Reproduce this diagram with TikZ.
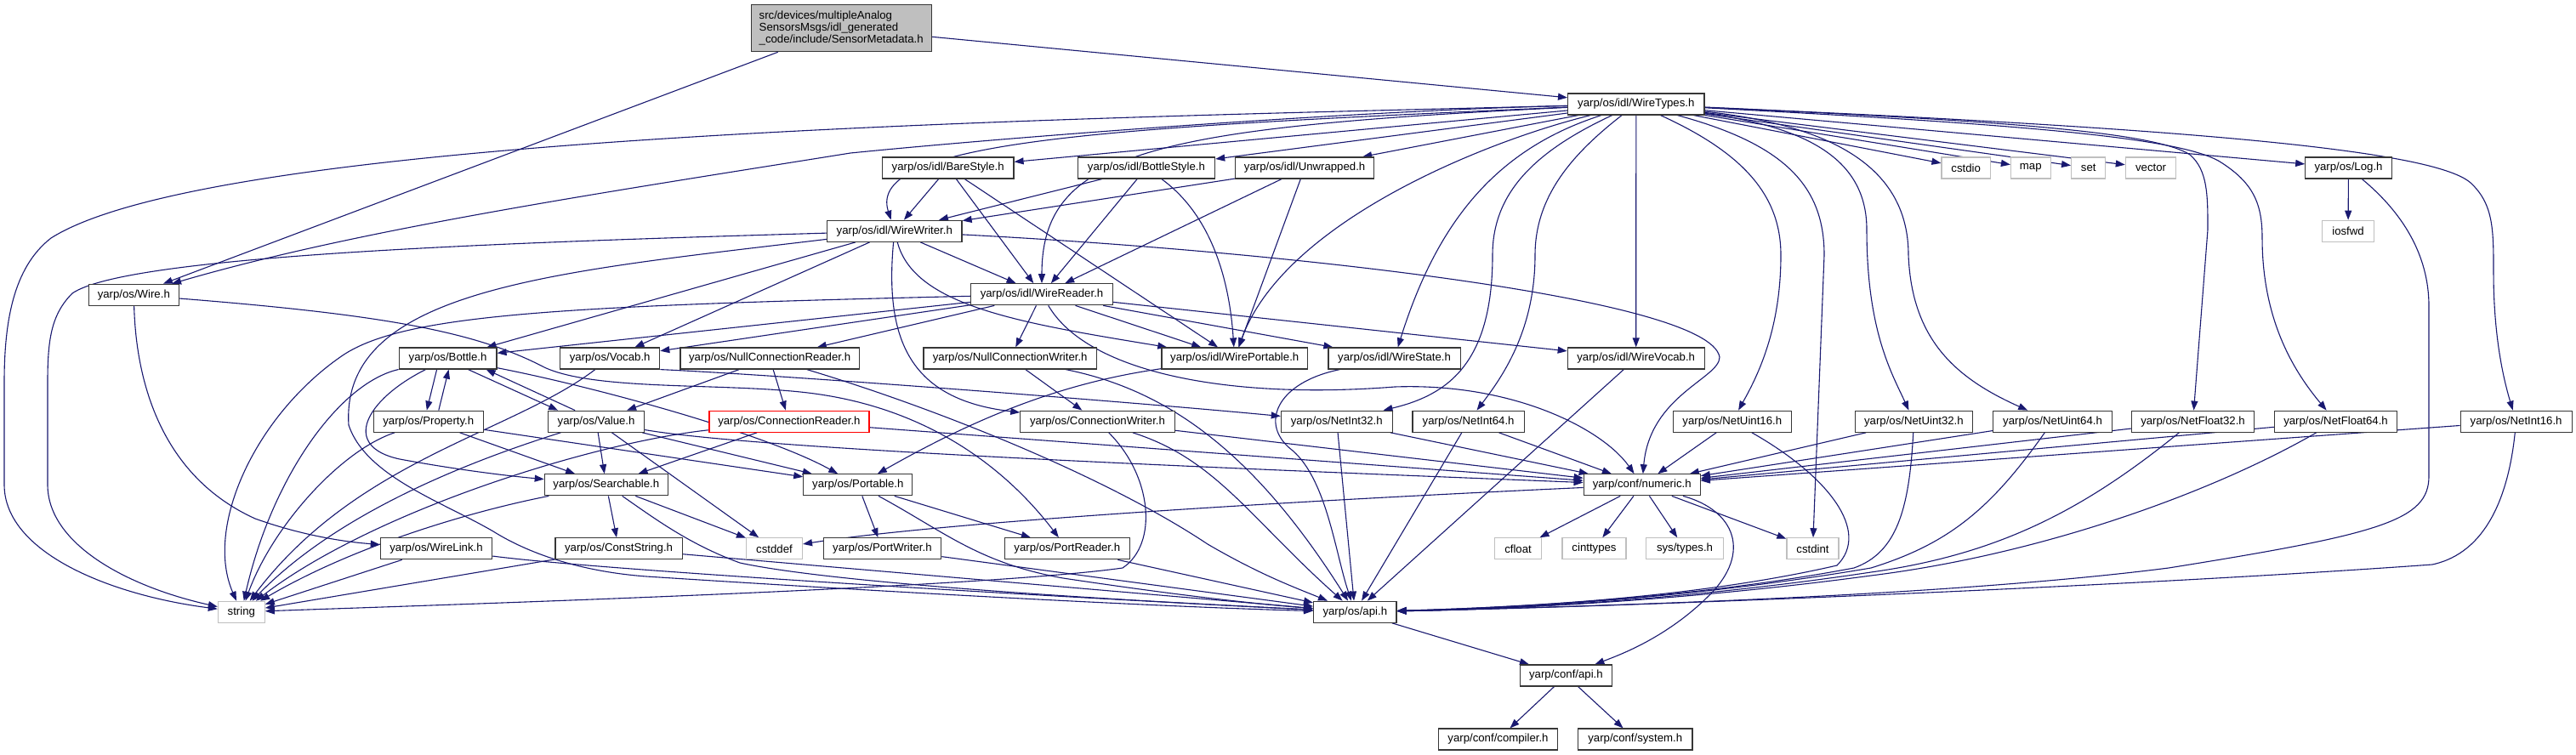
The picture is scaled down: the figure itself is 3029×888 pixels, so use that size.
\documentclass[tikz,border=0pt]{standalone}
\usepackage{fontspec}
\setmainfont{Liberation Sans}
\usetikzlibrary{arrows.meta}
\definecolor{edgec}{RGB}{25,25,112}
\definecolor{boxb}{RGB}{55,55,55}
\definecolor{sysb}{RGB}{191,191,191}
\definecolor{sensf}{RGB}{191,191,191}
\pgfdeclarelayer{bg}
\pgfsetlayers{bg,main}
\begin{document}
\begin{tikzpicture}[x=1pt,y=-1pt,
  font=\fontsize{13.2}{14.2}\selectfont,
  nbox/.style={draw=boxb, line width=1.2pt, fill=white, inner sep=0pt, minimum height=25pt},
  sbox/.style={nbox, draw=sysb},
  rbox/.style={nbox, draw=red},
  dep/.style={draw=edgec, line width=1.1pt, -{Triangle[length=11pt,width=8pt]}}]
\useasboundingbox (0,0) rectangle (3029,888);
% nodes
\node[nbox, fill=sensf, minimum width=211.8pt, minimum height=55pt, align=left] (sensor) at (989.2,33.2) {src/devices/multipleAnalog\\SensorsMsgs/idl\_generated\\\_code/include/SensorMetadata.h};
\node[nbox, minimum width=160.4pt] (wt) at (1923.8,122.5) {yarp/os/idl/WireTypes.h};
\node[nbox, minimum width=154.6pt] (bare) at (1114.7,197.5) {yarp/os/idl/BareStyle.h};
\node[nbox, minimum width=161.4pt] (bstyle) at (1347.9,197.5) {yarp/os/idl/BottleStyle.h};
\node[nbox, minimum width=162.6pt] (unw) at (1534.1,197.5) {yarp/os/idl/Unwrapped.h};
\node[sbox, minimum width=57.4pt] (cstdio) at (2311.7,197.5) {cstdio};
\node[sbox, minimum width=46.6pt] (nmap) at (2387.8,197.5) {map};
\node[sbox, minimum width=40.2pt] (nset) at (2455.7,197.5) {set};
\node[sbox, minimum width=59.3pt] (vector) at (2529,197.5) {vector};
\node[nbox, minimum width=101.5pt] (log) at (2761.5,197.5) {yarp/os/Log.h};
\node[nbox, minimum width=158.5pt] (ww) at (1051.8,271.8) {yarp/os/idl/WireWriter.h};
\node[sbox, minimum width=60.3pt] (iosfwd) at (2761,271.8) {iosfwd};
\node[nbox, minimum width=106.2pt] (wire) at (157.3,346.8) {yarp/os/Wire.h};
\node[nbox, minimum width=166.7pt] (wr) at (1225,346.3) {yarp/os/idl/WireReader.h};
\node[nbox, minimum width=114.8pt] (bottle) at (526.6,421.5) {yarp/os/Bottle.h};
\node[nbox, minimum width=117pt] (vocab) at (717.2,421.5) {yarp/os/Vocab.h};
\node[nbox, minimum width=210.4pt] (ncr) at (905.1,421.5) {yarp/os/NullConnectionReader.h};
\node[nbox, minimum width=203.6pt] (ncw) at (1187.7,421.5) {yarp/os/NullConnectionWriter.h};
\node[nbox, minimum width=171.3pt] (wp) at (1451.7,421.5) {yarp/os/idl/WirePortable.h};
\node[nbox, minimum width=155.1pt] (ws) at (1639.6,421.5) {yarp/os/idl/WireState.h};
\node[nbox, minimum width=160.9pt] (wv) at (1923.7,421.5) {yarp/os/idl/WireVocab.h};
\node[nbox, minimum width=129.4pt] (prop) at (503.8,495.7) {yarp/os/Property.h};
\node[nbox, minimum width=113pt] (value) at (701.1,495.7) {yarp/os/Value.h};
\node[rbox, minimum width=188pt] (cr) at (927.9,495.7) {yarp/os/ConnectionReader.h};
\node[nbox, minimum width=181.3pt] (cw) at (1290.5,495.7) {yarp/os/ConnectionWriter.h};
\node[nbox, minimum width=130.9pt] (ni32) at (1571.8,495.7) {yarp/os/NetInt32.h};
\node[nbox, minimum width=131.4pt] (ni64) at (1726.6,495.7) {yarp/os/NetInt64.h};
\node[nbox, minimum width=139.1pt] (nu16) at (2036.8,495.7) {yarp/os/NetUint16.h};
\node[nbox, minimum width=137.8pt] (nu32) at (2250.4,495.7) {yarp/os/NetUint32.h};
\node[nbox, minimum width=139.3pt] (nu64) at (2413.5,495.7) {yarp/os/NetUint64.h};
\node[nbox, minimum width=143.7pt] (nf32) at (2578.5,495.7) {yarp/os/NetFloat32.h};
\node[nbox, minimum width=144.2pt] (nf64) at (2746.5,495.7) {yarp/os/NetFloat64.h};
\node[nbox, minimum width=131pt] (ni16) at (2958.6,495.7) {yarp/os/NetInt16.h};
\node[nbox, minimum width=145pt] (search) at (712.8,570.3) {yarp/os/Searchable.h};
\node[nbox, minimum width=128pt] (port) at (1008.8,570.3) {yarp/os/Portable.h};
\node[nbox, minimum width=137.1pt] (num) at (1930.7,570.3) {yarp/conf/numeric.h};
\node[nbox, minimum width=131.3pt] (wl) at (513,645.3) {yarp/os/WireLink.h};
\node[nbox, minimum width=149.4pt] (cs) at (727.6,645.3) {yarp/os/ConstString.h};
\node[sbox, minimum width=65.9pt] (cstddef) at (910.5,645.3) {cstddef};
\node[nbox, minimum width=138.6pt] (pw) at (1037.4,645.3) {yarp/os/PortWriter.h};
\node[nbox, minimum width=146.8pt] (pr) at (1254.8,645.3) {yarp/os/PortReader.h};
\node[sbox, minimum width=55.3pt] (cfloat) at (1785,645.3) {cfloat};
\node[sbox, minimum width=75.1pt] (cinttypes) at (1874.5,645.3) {cinttypes};
\node[sbox, minimum width=90.6pt] (systypes) at (1981,645.3) {sys/types.h};
\node[sbox, minimum width=61.1pt] (cstdint) at (2131.5,645.3) {cstdint};
\node[sbox, minimum width=54.8pt] (str) at (283.8,719.8) {string};
\node[nbox, minimum width=97.4pt] (api) at (1593.3,719.7) {yarp/os/api.h};
\node[nbox, minimum width=108.1pt] (capi) at (1841.4,794.5) {yarp/conf/api.h};
\node[nbox, minimum width=140pt] (comp) at (1761.5,869.5) {yarp/conf/compiler.h};
\node[nbox, minimum width=134.7pt] (sys) at (1922.7,869.5) {yarp/conf/system.h};
\begin{pgfonlayer}{bg}
\fill[white] (0,0) rectangle (3029,888);
% SensorMetadata
\draw[dep] (sensor) -- (wt);
\draw[dep] (sensor) -- (wire);
% WireTypes
\draw[dep] (wt) -- (bare);
\draw[dep] (wt) -- (bstyle);
\draw[dep] (wt) -- (unw);
\draw[dep] (wt) .. controls (1300,150) and (1018,165) .. (ww);
\draw[dep] (wt) .. controls (1350,150) and (1225,180) .. (wr);
\draw[dep] (wt) .. controls (1750,165) and (1510,260) .. (wp);
\draw[dep] (wt) .. controls (1760,175) and (1690,260) .. (ws);
\draw[dep] (wt) -- (wv);
\draw[dep] (wt) .. controls (1600,130) and (1200,160) .. (1000,180) .. controls (700,228) and (420,270) .. (wire);
\draw[dep] (wt) .. controls (1200,140) and (250,160) .. (60,280) .. controls (15,315) and (5,380) .. (5,450) -- (5,570) .. controls (5,650) and (130,700) .. (str);
\draw[dep] (wt) .. controls (1800,180) and (1755,230) .. (1755,300) .. controls (1755,430) and (1700,465) .. (ni32);
\draw[dep] (wt) .. controls (1850,180) and (1805,230) .. (1805,300) .. controls (1805,390) and (1765,445) .. (ni64);
\draw[dep] (wt) .. controls (2050,180) and (2094,230) .. (2094,300) .. controls (2094,390) and (2065,445) .. (nu16);
\draw[dep] (wt) .. controls (2100,170) and (2145,220) .. (2145,300) -- (cstdint);
\draw[dep] (wt) .. controls (2130,150) and (2195,190) .. (2195,270) .. controls (2195,390) and (2225,440) .. (nu32);
\draw[dep] (wt) .. controls (2160,148) and (2244,200) .. (2244,300) .. controls (2248,400) and (2300,445) .. (nu64);
\draw[dep] (wt) -- (cstdio);
\draw[dep] (wt) -- (nmap);
\draw[dep] (wt) -- (nset);
\draw[dep] (wt) -- (vector);
\draw[dep] (wt) -- (log);
\draw[dep] (wt) .. controls (2300,140) and (2530,152) .. (2575,182) .. controls (2596,200) and (2596,230) .. (2596,270) -- (nf32);
\draw[dep] (wt) .. controls (2350,145) and (2560,160) .. (2610,190) .. controls (2650,215) and (2660,240) .. (2660,280) .. controls (2660,380) and (2700,440) .. (nf64);
\draw[dep] (wt) .. controls (2550,150) and (2860,175) .. (2905,215) .. controls (2932,240) and (2932,270) .. (2932,320) .. controls (2932,400) and (2945,450) .. (ni16);
% styles
\draw[dep] (bare) -- (ww);
\draw[dep] (bare) -- (wr);
\draw[dep] (bare) -- (wp);
\draw[dep] (bstyle) -- (ww);
\draw[dep] (bstyle) -- (wr);
\draw[dep] (bstyle) .. controls (1420,250) and (1445,320) .. (wp);
\draw[dep] (unw) -- (ww);
\draw[dep] (unw) -- (wr);
\draw[dep] (unw) -- (wp);
% WireWriter
\draw[dep] (ww) -- (wr);
\draw[dep] (ww) .. controls (1075,360) and (1200,380) .. (wp);
\draw[dep] (ww) -- (bottle);
\draw[dep] (ww) -- (vocab);
\draw[dep] (ww) .. controls (1040,400) and (1070,470) .. (cw);
\draw[dep] (ww) .. controls (1500,295) and (2010,350) .. (2022,420) .. controls (2022,445) and (1940,465) .. (num);
\draw[dep] (ww) .. controls (600,285) and (150,300) .. (85,345) .. controls (60,370) and (56,400) .. (56,450) -- (56,570) .. controls (56,640) and (150,690) .. (str);
\draw[dep] (ww) .. controls (650,320) and (400,340) .. (410,500) .. controls (430,560) and (520,590) .. (580,625) .. controls (620,650) and (680,672) .. (760,678) .. controls (1100,700) and (1400,715) .. (api);
% WireReader
\draw[dep] (wr) -- (bottle);
\draw[dep] (wr) -- (vocab);
\draw[dep] (wr) -- (ncr);
\draw[dep] (wr) -- (ncw);
\draw[dep] (wr) -- (wp);
\draw[dep] (wr) -- (ws);
\draw[dep] (wr) -- (wv);
\draw[dep] (wr) .. controls (1280,440) and (1450,470) .. (1640,455) .. controls (1780,450) and (1885,505) .. (num);
\draw[dep] (wr) .. controls (650,360) and (470,370) .. (400,420) .. controls (300,490) and (240,620) .. (str);
% Wire
\draw[dep] (wire) .. controls (160,450) and (190,560) .. (300,610) .. controls (350,628) and (400,637) .. (wl);
\draw[dep] (wire) .. controls (450,370) and (560,390) .. (640,432) .. controls (700,460) and (850,450) .. (950,462) .. controls (1100,480) and (1190,560) .. (pr);
% Bottle, Property, Value
\draw[dep] ([xshift=-13pt]bottle.south) -- ([xshift=-2pt]prop.north);
\draw[dep] ([xshift=12pt]prop.north) -- ([xshift=1pt]bottle.south);
\draw[dep] ([xshift=24pt]bottle.south) -- ([xshift=-45pt]value.north);
\draw[dep] ([xshift=-25pt]value.north) -- ([xshift=45pt]bottle.south);
\draw[dep] (bottle) .. controls (430,470) and (400,525) .. (470,540) .. controls (540,553) and (600,560) .. (search);
\draw[dep] (bottle) .. controls (700,455) and (900,510) .. (port);
\draw[dep] (bottle) .. controls (400,450) and (320,560) .. (str);
\draw[dep] (prop) -- (search);
\draw[dep] (prop) -- (port);
\draw[dep] (prop) .. controls (400,530) and (320,620) .. (str);
\draw[dep] (value) -- (search);
\draw[dep] (value) -- (port);
\draw[dep] (value) -- (cstddef);
\draw[dep] (value) .. controls (900,530) and (1500,553) .. (num);
\draw[dep] (value) .. controls (560,540) and (400,600) .. (str);
% Vocab
\draw[dep] (vocab.south east) .. controls (900,440) and (1300,470) .. (ni32);
\draw[dep] (vocab) .. controls (600,510) and (420,540) .. (str);
% Null connections
\draw[dep] (ncr) -- (cr);
\draw[dep] (ncr) -- (value);
\draw[dep] (ncr) .. controls (1100,480) and (1300,560) .. (1420,640) .. controls (1480,675) and (1520,690) .. (api);
\draw[dep] (ncw) -- (cw);
\draw[dep] (ncw) .. controls (1380,460) and (1480,540) .. (api);
% Connection reader / writer
\draw[dep] (cr) -- (search);
\draw[dep] (cr) -- (num);
\draw[dep] (cr) .. controls (700,520) and (440,600) .. (str);
\draw[dep] (cw) -- (num);
\draw[dep] (cw) .. controls (1430,540) and (1470,610) .. (api);
\draw[dep] (cw) .. controls (1355,560) and (1362,640) .. (1320,668) .. controls (1150,692) and (500,712) .. (str);
% idl
\draw[dep] (wp) .. controls (1250,450) and (1150,490) .. (port);
\draw[dep] (ws) .. controls (1500,450) and (1480,500) .. (1520,530) .. controls (1560,565) and (1570,650) .. (api);
\draw[dep] (wv) -- (api);
% Net types
\draw[dep] (ni32) -- (num);
\draw[dep] (ni32) -- (api);
\draw[dep] (ni64) -- (num);
\draw[dep] (ni64) -- (api);
\draw[dep] (nu16) -- (num);
\draw[dep] (nu16) .. controls (2150,560) and (2200,625) .. (2160,665) .. controls (2000,702) and (1800,714) .. (api);
\draw[dep] (nu32) -- (num);
\draw[dep] (nu32) .. controls (2245,600) and (2230,650) .. (2180,668) .. controls (2000,702) and (1800,714) .. (api);
\draw[dep] (nu64) -- (num);
\draw[dep] (nu64) .. controls (2340,600) and (2290,640) .. (2200,668) .. controls (2000,702) and (1800,715) .. (api);
\draw[dep] (nf32) -- (num);
\draw[dep] (nf32) .. controls (2450,600) and (2350,652) .. (2200,673) .. controls (2000,703) and (1800,716) .. (api);
\draw[dep] (nf64) -- (num);
\draw[dep] (nf64) .. controls (2600,580) and (2400,652) .. (2200,677) .. controls (2000,704) and (1800,716) .. (api);
\draw[dep] (ni16) -- (num);
\draw[dep] (ni16) .. controls (2950,580) and (2925,650) .. (2860,664) .. controls (2500,690) and (1900,714) .. (api);
% Log
\draw[dep] (log) -- (iosfwd);
\draw[dep] (log) .. controls (2825,250) and (2856,300) .. (2856,360) -- (2856,560) .. controls (2856,612) and (2800,628) .. (2550,668) .. controls (2300,700) and (1900,713) .. (api);
% Searchable, Portable
\draw[dep] (search) -- (cs);
\draw[dep] (search) -- (cstddef);
\draw[dep] (search) .. controls (560,600) and (420,640) .. (str);
\draw[dep] (search) .. controls (770,610) and (810,640) .. (870,662) .. controls (1000,690) and (1400,710) .. (api);
\draw[dep] (port) -- (pw);
\draw[dep] (port) -- (pr);
\draw[dep] (port) .. controls (1110,625) and (1150,662) .. (1250,680) .. controls (1350,695) and (1450,708) .. (api);
\draw[dep] (pw) -- (api);
\draw[dep] (pr) -- (api);
\draw[dep] (wl) -- (str);
\draw[dep] (wl) .. controls (700,670) and (1200,700) .. (api);
\draw[dep] (cs) -- (str);
\draw[dep] (cs) -- (api);
% numeric
\draw[dep] (num) -- (cfloat);
\draw[dep] (num) -- (cinttypes);
\draw[dep] (num) -- (systypes);
\draw[dep] (num) -- (cstdint);
\draw[dep] (num) .. controls (1500,590) and (1100,615) .. (cstddef);
\draw[dep] (num) .. controls (2040,600) and (2060,650) .. (2010,700) .. controls (1960,750) and (1905,770) .. (capi);
% api
\draw[dep] (api) -- (capi);
\draw[dep] (capi) -- (comp);
\draw[dep] (capi) -- (sys);
\end{pgfonlayer}
\end{tikzpicture}
\end{document}
